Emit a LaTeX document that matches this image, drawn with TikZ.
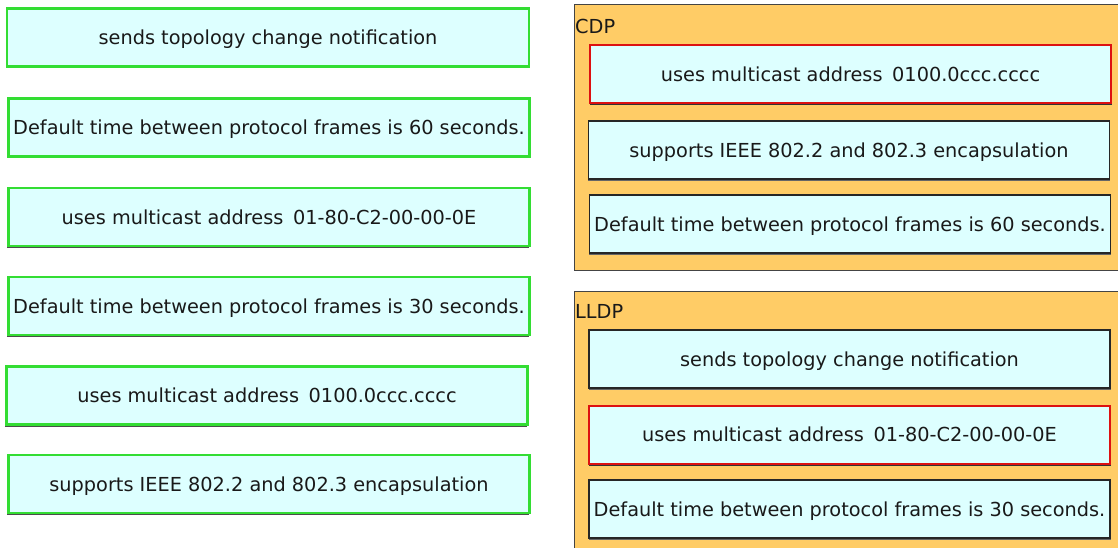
\documentclass[tikz,border=0pt]{standalone}
\usepackage{fontspec}
\setmainfont{DejaVu Sans}
\definecolor{boxfill}{HTML}{DDFFFF}
\definecolor{greenb}{HTML}{33DD33}
\definecolor{redb}{HTML}{DD1111}
\definecolor{panelfill}{HTML}{FFCC66}
\definecolor{panelline}{HTML}{444444}
\begin{document}
\begin{tikzpicture}[x=1pt,y=-1pt,
  every node/.style={font=\fontsize{19.3}{22}\selectfont, text=black!90},
  base/.style={rectangle, fill=boxfill, minimum height=58pt, inner sep=0pt, text depth=0pt, yshift=-1pt},
  greenbox/.style={base, draw=greenb, line width=2.8pt, minimum width=521pt,
     preaction={draw=black!70, line width=1pt, transform canvas={xshift=-1pt,yshift=-1.5pt}}},
  redbox/.style={base, draw=redb, line width=2pt, minimum width=521pt,
     preaction={draw=black!80, line width=1pt, transform canvas={xshift=0pt,yshift=-1.5pt}}},
  darkbox/.style={base, draw=black!85, line width=1.4pt, minimum width=521pt,
     preaction={draw=black!60, line width=1pt, transform canvas={xshift=0pt,yshift=-1.5pt}}},
  panel/.style={draw=panelline, line width=1pt, fill=panelfill},
  plabel/.style={anchor=west, inner sep=0pt}
]
\useasboundingbox (0,0) rectangle (1118,548);
\fill[white] (0,0) rectangle (1118,548);
% left column
\node[greenbox, minimum width=522pt] (l1) at (268,36.5) {sends topology change notification};
\node[greenbox] (l2) at (269,126.5) {Default time between protocol frames is 60 seconds.};
\node[greenbox] (l3) at (269,216) {uses multicast address\enspace 01-80-C2-00-00-0E};
\node[greenbox] (l4) at (269,305) {Default time between protocol frames is 30 seconds.};
\node[greenbox] (l5) at (267,394.5) {uses multicast address\enspace 0100.0ccc.cccc};
\node[greenbox] (l6) at (269,483) {supports IEEE 802.2 and 802.3 encapsulation};
% CDP panel
\filldraw[panel] (574,5) rectangle (1120,270);
\node[plabel] (cdp) at (575,26) {CDP};
\node[redbox] (c1) at (850.5,73) {uses multicast address\enspace 0100.0ccc.cccc};
\node[darkbox] (c2) at (849,149) {supports IEEE 802.2 and 802.3 encapsulation};
\node[darkbox] (c3) at (850,223) {Default time between protocol frames is 60 seconds.};
% LLDP panel
\filldraw[panel] (574,291) rectangle (1120,550);
\node[plabel] (lldp) at (575,311) {LLDP};
\node[darkbox] (d1) at (849.5,358) {sends topology change notification};
\node[redbox] (d2) at (849.5,433.5) {uses multicast address\enspace 01-80-C2-00-00-0E};
\node[darkbox] (d3) at (849.5,508) {Default time between protocol frames is 30 seconds.};
\end{tikzpicture}
\end{document}
